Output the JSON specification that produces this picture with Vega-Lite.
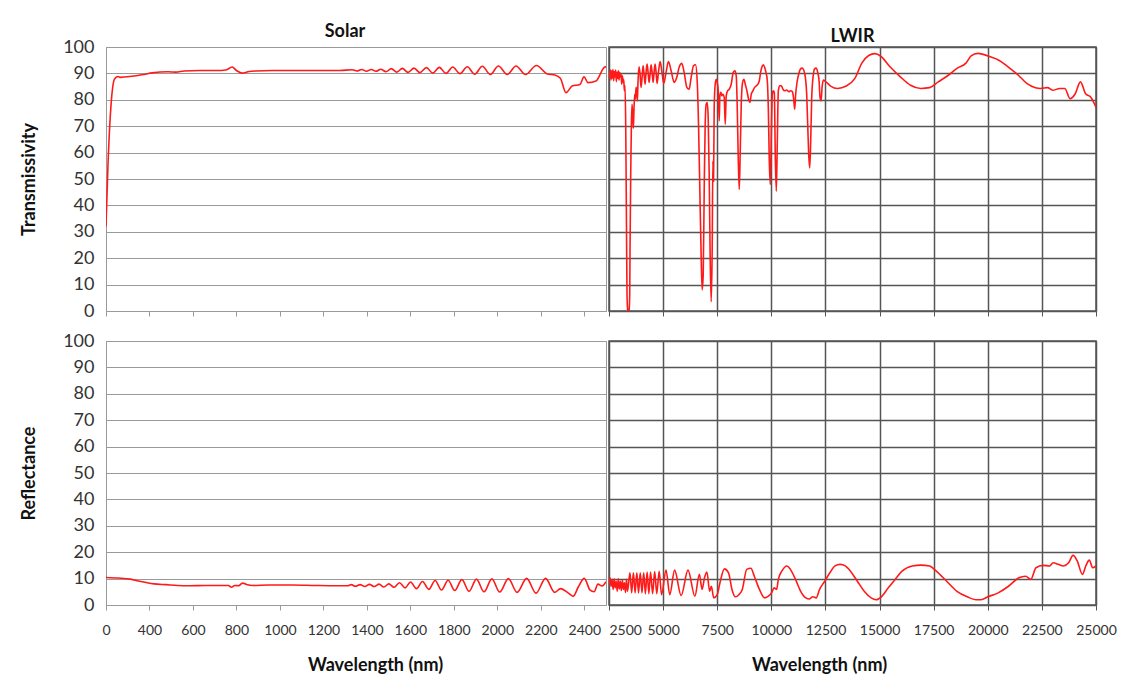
{
  "$schema": "https://vega.github.io/schema/vega-lite/v6.json",
  "background": "white",
  "padding": {"left": 20, "top": 22, "right": 10, "bottom": 10},
  "config": {
    "font": "Lato",
    "axis": {"labelFont": "Lato", "titleFont": "Lato", "labelColor": "#333333", "titleColor": "#111111", "titleFontWeight": "bold", "labelOverlap": false, "labelFlush": false},
    "title": {"font": "Lato", "fontSize": 18, "fontWeight": "bold", "color": "#111111"},
    "concat": {"spacing": 0}
  },
  "datasets": {
    "solarT": [
      {"nm":200,"v":32},{"nm":209,"v":55},{"nm":225,"v":80},{"nm":240,"v":88},{"nm":256,"v":88.8},{"nm":264,"v":88.5},{"nm":375,"v":89.6},{"nm":412,"v":90.2},{"nm":485,"v":90.6},{"nm":522,"v":90.5},{"nm":559,"v":90.9},{"nm":632,"v":91.1},{"nm":706,"v":91.1},{"nm":752,"v":91.3},{"nm":780,"v":92.4},{"nm":802,"v":91.0},{"nm":826,"v":90.1},{"nm":853,"v":90.6},{"nm":890,"v":90.9},{"nm":964,"v":91.1},{"nm":1074,"v":91.1},{"nm":1184,"v":91.1},{"nm":1276,"v":91.1},{"nm":1332,"v":91.4},{"nm":1354,"v":90.9},{"nm":1376,"v":91.5},{"nm":1398,"v":90.8},{"nm":1420,"v":91.5},{"nm":1442,"v":90.8},{"nm":1464,"v":91.6},{"nm":1488,"v":90.6},{"nm":1512,"v":91.8},{"nm":1538,"v":90.5},{"nm":1563,"v":91.9},{"nm":1589,"v":90.4},{"nm":1617,"v":92.0},{"nm":1644,"v":90.3},{"nm":1674,"v":92.2},{"nm":1703,"v":90.1},{"nm":1733,"v":92.3},{"nm":1764,"v":90.0},{"nm":1795,"v":92.4},{"nm":1828,"v":89.9},{"nm":1862,"v":92.5},{"nm":1896,"v":89.7},{"nm":1931,"v":92.7},{"nm":1968,"v":89.6},{"nm":2005,"v":92.8},{"nm":2046,"v":89.6},{"nm":2086,"v":92.8},{"nm":2130,"v":89.6},{"nm":2180,"v":93.0},{"nm":2230,"v":89.8},{"nm":2265,"v":89.4},{"nm":2290,"v":88.2},{"nm":2316,"v":82.7},{"nm":2344,"v":85.2},{"nm":2380,"v":85.8},{"nm":2399,"v":88.7},{"nm":2417,"v":86.5},{"nm":2454,"v":87.1},{"nm":2491,"v":92.2},{"nm":2500,"v":92.6}
    ],
    "solarR": [
      {"nm":200,"v":10.4},{"nm":258,"v":10.2},{"nm":313,"v":9.8},{"nm":349,"v":9.1},{"nm":385,"v":8.5},{"nm":421,"v":8.0},{"nm":476,"v":7.7},{"nm":530,"v":7.4},{"nm":585,"v":7.3},{"nm":657,"v":7.4},{"nm":730,"v":7.4},{"nm":763,"v":7.4},{"nm":777,"v":6.7},{"nm":792,"v":7.4},{"nm":810,"v":7.3},{"nm":828,"v":8.3},{"nm":846,"v":7.8},{"nm":875,"v":7.4},{"nm":948,"v":7.6},{"nm":1057,"v":7.6},{"nm":1166,"v":7.4},{"nm":1256,"v":7.3},{"nm":1311,"v":7.3},{"nm":1329,"v":7.7},{"nm":1347,"v":7.1},{"nm":1369,"v":7.7},{"nm":1391,"v":7.0},{"nm":1412,"v":7.8},{"nm":1434,"v":7.0},{"nm":1456,"v":7.9},{"nm":1478,"v":6.8},{"nm":1501,"v":8.0},{"nm":1525,"v":6.7},{"nm":1550,"v":8.4},{"nm":1576,"v":6.5},{"nm":1601,"v":8.7},{"nm":1628,"v":6.2},{"nm":1656,"v":8.9},{"nm":1685,"v":5.9},{"nm":1714,"v":9.3},{"nm":1743,"v":5.7},{"nm":1774,"v":9.4},{"nm":1804,"v":5.5},{"nm":1837,"v":9.6},{"nm":1870,"v":5.2},{"nm":1904,"v":9.8},{"nm":1939,"v":5.0},{"nm":1975,"v":9.9},{"nm":2011,"v":4.9},{"nm":2051,"v":10.0},{"nm":2091,"v":4.8},{"nm":2135,"v":10.1},{"nm":2178,"v":4.5},{"nm":2222,"v":10.1},{"nm":2264,"v":4.8},{"nm":2291,"v":6.2},{"nm":2327,"v":4.5},{"nm":2349,"v":3.3},{"nm":2373,"v":6.9},{"nm":2400,"v":10.1},{"nm":2427,"v":5.6},{"nm":2445,"v":5.0},{"nm":2463,"v":7.9},{"nm":2482,"v":7.2},{"nm":2500,"v":8.8}
    ],
    "lwirT": [
      {"nm":2500,"v":90.4},{"nm":2531,"v":88.5},{"nm":2562,"v":91.3},{"nm":2593,"v":87.5},{"nm":2623,"v":91.0},{"nm":2654,"v":88.2},{"nm":2685,"v":91.5},{"nm":2716,"v":87.2},{"nm":2747,"v":90.7},{"nm":2778,"v":88.7},{"nm":2809,"v":91.3},{"nm":2839,"v":86.9},{"nm":2870,"v":90.4},{"nm":2901,"v":88.2},{"nm":2932,"v":91.0},{"nm":2963,"v":87.5},{"nm":2994,"v":90.4},{"nm":3025,"v":88.7},{"nm":3055,"v":89.8},{"nm":3086,"v":85.9},{"nm":3117,"v":89.1},{"nm":3148,"v":86.6},{"nm":3179,"v":87.8},{"nm":3210,"v":83.4},{"nm":3241,"v":85.3},{"nm":3272,"v":70.7},{"nm":3302,"v":39.0},{"nm":3333,"v":6.1},{"nm":3364,"v":0.4},{"nm":3395,"v":0},{"nm":3426,"v":0.4},{"nm":3457,"v":6.1},{"nm":3472,"v":23.8},{"nm":3503,"v":51.7},{"nm":3534,"v":70.7},{"nm":3565,"v":78.3},{"nm":3596,"v":73.3},{"nm":3626,"v":69.2},{"nm":3657,"v":77.1},{"nm":3688,"v":82.1},{"nm":3719,"v":80.2},{"nm":3750,"v":84.7},{"nm":3781,"v":83.4},{"nm":3811,"v":79.6},{"nm":3842,"v":87.2},{"nm":3889,"v":92.5},{"nm":3935,"v":89.7},{"nm":3981,"v":84.7},{"nm":4028,"v":88.5},{"nm":4074,"v":92.9},{"nm":4120,"v":89.7},{"nm":4167,"v":85.9},{"nm":4213,"v":90.4},{"nm":4259,"v":93.5},{"nm":4306,"v":90.4},{"nm":4352,"v":86.6},{"nm":4398,"v":89.7},{"nm":4445,"v":93.3},{"nm":4491,"v":90.4},{"nm":4537,"v":86.6},{"nm":4583,"v":90.4},{"nm":4630,"v":93.5},{"nm":4676,"v":90.4},{"nm":4722,"v":86.2},{"nm":4784,"v":90.4},{"nm":4861,"v":94.5},{"nm":4938,"v":91.0},{"nm":5030,"v":86.2},{"nm":5123,"v":89.7},{"nm":5246,"v":94.5},{"nm":5370,"v":91.0},{"nm":5509,"v":86.6},{"nm":5632,"v":88.5},{"nm":5740,"v":92.3},{"nm":5863,"v":93.8},{"nm":5972,"v":90.4},{"nm":6095,"v":84.7},{"nm":6203,"v":84.0},{"nm":6296,"v":88.5},{"nm":6404,"v":92.9},{"nm":6497,"v":93.3},{"nm":6574,"v":87.2},{"nm":6636,"v":70.7},{"nm":6698,"v":45.4},{"nm":6760,"v":20.0},{"nm":6805,"v":8.0},{"nm":6852,"v":13.7},{"nm":6898,"v":45.4},{"nm":6944,"v":70.7},{"nm":6990,"v":78.3},{"nm":7036,"v":79.0},{"nm":7083,"v":73.3},{"nm":7129,"v":51.7},{"nm":7175,"v":20.0},{"nm":7221,"v":3.5},{"nm":7268,"v":23.8},{"nm":7299,"v":56.8},{"nm":7330,"v":49.2},{"nm":7360,"v":77.1},{"nm":7407,"v":85.9},{"nm":7453,"v":87.8},{"nm":7500,"v":86.6},{"nm":7546,"v":83.4},{"nm":7592,"v":72.0},{"nm":7623,"v":81.5},{"nm":7669,"v":82.8},{"nm":7715,"v":81.5},{"nm":7762,"v":82.1},{"nm":7823,"v":80.9},{"nm":7870,"v":70.7},{"nm":7916,"v":81.5},{"nm":7978,"v":83.4},{"nm":8055,"v":84.0},{"nm":8147,"v":85.9},{"nm":8240,"v":90.4},{"nm":8317,"v":91.0},{"nm":8379,"v":89.1},{"nm":8425,"v":77.1},{"nm":8471,"v":58.0},{"nm":8518,"v":46.0},{"nm":8564,"v":60.6},{"nm":8610,"v":78.3},{"nm":8672,"v":86.6},{"nm":8734,"v":87.8},{"nm":8795,"v":85.9},{"nm":8872,"v":83.4},{"nm":8950,"v":80.2},{"nm":9011,"v":79.0},{"nm":9073,"v":82.1},{"nm":9150,"v":83.4},{"nm":9227,"v":84.7},{"nm":9305,"v":85.3},{"nm":9382,"v":85.9},{"nm":9444,"v":87.2},{"nm":9505,"v":90.4},{"nm":9567,"v":92.5},{"nm":9629,"v":93.3},{"nm":9690,"v":92.3},{"nm":9752,"v":90.4},{"nm":9814,"v":87.2},{"nm":9860,"v":77.1},{"nm":9906,"v":56.8},{"nm":9953,"v":47.9},{"nm":9999,"v":66.9},{"nm":10045,"v":82.1},{"nm":10092,"v":83.4},{"nm":10138,"v":82.8},{"nm":10184,"v":58.0},{"nm":10230,"v":45.4},{"nm":10277,"v":64.4},{"nm":10323,"v":83.4},{"nm":10385,"v":85.3},{"nm":10462,"v":85.3},{"nm":10539,"v":84.0},{"nm":10616,"v":83.4},{"nm":10709,"v":83.7},{"nm":10801,"v":83.1},{"nm":10894,"v":83.4},{"nm":10971,"v":83.1},{"nm":11033,"v":80.2},{"nm":11079,"v":76.4},{"nm":11125,"v":82.1},{"nm":11187,"v":86.6},{"nm":11264,"v":89.7},{"nm":11341,"v":91.6},{"nm":11418,"v":92.0},{"nm":11495,"v":91.3},{"nm":11572,"v":88.5},{"nm":11634,"v":82.1},{"nm":11680,"v":70.7},{"nm":11727,"v":59.3},{"nm":11773,"v":54.2},{"nm":11819,"v":64.4},{"nm":11866,"v":80.9},{"nm":11927,"v":88.5},{"nm":11989,"v":91.6},{"nm":12066,"v":92.0},{"nm":12143,"v":90.4},{"nm":12205,"v":87.2},{"nm":12251,"v":80.9},{"nm":12297,"v":79.6},{"nm":12344,"v":84.7},{"nm":12406,"v":87.5},{"nm":12498,"v":87.0},{"nm":12740,"v":85.2},{"nm":13060,"v":84.3},{"nm":13460,"v":85.2},{"nm":13860,"v":88.1},{"nm":14180,"v":93.9},{"nm":14500,"v":96.8},{"nm":14780,"v":97.5},{"nm":15060,"v":96.5},{"nm":15470,"v":92.6},{"nm":15950,"v":88.8},{"nm":16430,"v":85.5},{"nm":16910,"v":84.3},{"nm":17310,"v":84.6},{"nm":17710,"v":86.8},{"nm":18190,"v":89.4},{"nm":18590,"v":92.0},{"nm":18990,"v":93.9},{"nm":19230,"v":96.6},{"nm":19550,"v":97.6},{"nm":19790,"v":97.2},{"nm":20110,"v":96.3},{"nm":20510,"v":95.0},{"nm":20920,"v":92.6},{"nm":21400,"v":89.4},{"nm":21800,"v":86.2},{"nm":22200,"v":84.6},{"nm":22440,"v":84.3},{"nm":22760,"v":84.6},{"nm":23000,"v":83.6},{"nm":23320,"v":84.3},{"nm":23560,"v":84.3},{"nm":23800,"v":80.4},{"nm":24040,"v":82.3},{"nm":24280,"v":86.8},{"nm":24520,"v":82.3},{"nm":24760,"v":81.0},{"nm":25000,"v":77.2}
    ],
    "lwirR": [
      {"nm":2500,"v":7.8},{"nm":2548,"v":10.3},{"nm":2595,"v":7.1},{"nm":2643,"v":9.7},{"nm":2690,"v":5.9},{"nm":2738,"v":9.9},{"nm":2786,"v":6.5},{"nm":2833,"v":9.0},{"nm":2881,"v":5.2},{"nm":2928,"v":9.9},{"nm":2976,"v":6.1},{"nm":3024,"v":9.0},{"nm":3071,"v":5.5},{"nm":3119,"v":9.4},{"nm":3167,"v":5.9},{"nm":3214,"v":8.4},{"nm":3262,"v":4.8},{"nm":3309,"v":9.7},{"nm":3357,"v":5.2},{"nm":3468,"v":12.2},{"nm":3547,"v":4.6},{"nm":3627,"v":12.2},{"nm":3706,"v":4.6},{"nm":3785,"v":12.2},{"nm":3865,"v":4.6},{"nm":3944,"v":12.2},{"nm":4024,"v":4.6},{"nm":4103,"v":12.2},{"nm":4182,"v":4.3},{"nm":4262,"v":12.5},{"nm":4341,"v":4.3},{"nm":4420,"v":12.5},{"nm":4516,"v":4.3},{"nm":4611,"v":12.7},{"nm":4706,"v":4.3},{"nm":4817,"v":12.8},{"nm":4928,"v":3.9},{"nm":5134,"v":13.2},{"nm":5309,"v":3.9},{"nm":5531,"v":13.2},{"nm":5833,"v":3.6},{"nm":6150,"v":13.2},{"nm":6468,"v":3.3},{"nm":6674,"v":11.6},{"nm":6801,"v":5.9},{"nm":6912,"v":10.3},{"nm":7023,"v":12.5},{"nm":7150,"v":5.2},{"nm":7229,"v":7.1},{"nm":7340,"v":2.7},{"nm":7499,"v":3.9},{"nm":7626,"v":8.4},{"nm":7832,"v":13.7},{"nm":8023,"v":12.2},{"nm":8181,"v":5.9},{"nm":8340,"v":3.1},{"nm":8499,"v":3.9},{"nm":8658,"v":5.9},{"nm":8864,"v":13.5},{"nm":9054,"v":13.9},{"nm":9213,"v":10.9},{"nm":9451,"v":5.9},{"nm":9689,"v":2.7},{"nm":9848,"v":3.3},{"nm":10007,"v":4.6},{"nm":10133,"v":6.5},{"nm":10245,"v":5.9},{"nm":10324,"v":9.7},{"nm":10483,"v":12.8},{"nm":10721,"v":14.8},{"nm":10880,"v":13.5},{"nm":11117,"v":9.7},{"nm":11355,"v":5.2},{"nm":11594,"v":2.7},{"nm":11752,"v":2.3},{"nm":11911,"v":3.1},{"nm":12070,"v":2.7},{"nm":12228,"v":5.9},{"nm":12466,"v":9.0},{"nm":12704,"v":12.2},{"nm":12942,"v":14.8},{"nm":13180,"v":15.4},{"nm":13419,"v":14.8},{"nm":13657,"v":12.8},{"nm":13974,"v":9.0},{"nm":14292,"v":5.2},{"nm":14609,"v":2.7},{"nm":14847,"v":2.0},{"nm":15085,"v":3.1},{"nm":15403,"v":6.5},{"nm":15720,"v":9.7},{"nm":16037,"v":12.8},{"nm":16513,"v":14.8},{"nm":16910,"v":15.1},{"nm":17307,"v":14.8},{"nm":17624,"v":12.8},{"nm":18100,"v":9.0},{"nm":18576,"v":5.2},{"nm":19052,"v":3.1},{"nm":19449,"v":2.0},{"nm":19688,"v":2.0},{"nm":20005,"v":3.1},{"nm":20481,"v":4.6},{"nm":20957,"v":7.1},{"nm":21433,"v":10.3},{"nm":21750,"v":10.9},{"nm":21988,"v":9.7},{"nm":22226,"v":14.1},{"nm":22544,"v":15.0},{"nm":22861,"v":14.8},{"nm":23020,"v":16.0},{"nm":23258,"v":15.4},{"nm":23496,"v":14.8},{"nm":23734,"v":16.0},{"nm":23940,"v":18.8},{"nm":24133,"v":16.7},{"nm":24371,"v":11.6},{"nm":24530,"v":14.8},{"nm":24689,"v":17.0},{"nm":24848,"v":14.1},{"nm":25000,"v":14.8}
    ]
  },
  "spacing": 10,
  "vconcat": [
    {
      "hconcat": [
        {
          "width": 500, "height": 264,
          "title": {"text": "Solar", "offset": -3, "dx": -11},
          "view": {"stroke": "#9a9a9a"},
          "data": {"name": "solarT"},
          "mark": {"type": "line", "color": "#ff1a1a", "strokeWidth": 1.6, "interpolate": "monotone", "clip": true},
          "encoding": {
            "x": {"field": "nm", "type": "quantitative", "scale": {"domain": [200, 2500], "nice": false, "zero": false},
                  "axis": {"title": null, "labels": false, "grid": false, "ticks": true, "tickSize": 5, "tickColor": "#9a9a9a", "domainColor": "#9a9a9a", "values": [200,400,600,800,1000,1200,1400,1600,1800,2000,2200,2400]}},
            "y": {"field": "v", "type": "quantitative", "scale": {"domain": [0, 100], "nice": false},
                  "axis": {"title": "Transmissivity", "titleFontSize": 18, "titlePadding": 24, "labelFontSize": 18, "labelPadding": 12, "ticks": false, "grid": true, "gridColor": "#9a9a9a", "gridWidth": 1.2, "domainColor": "#9a9a9a", "values": [0,10,20,30,40,50,60,70,80,90,100]}}
          }
        },
        {
          "width": 487, "height": 264,
          "title": {"text": "LWIR", "offset": 7, "dy": 6},
          "view": {"stroke": "#555555", "strokeWidth": 1.5},
          "data": {"name": "lwirT"},
          "mark": {"type": "line", "color": "#ff1a1a", "strokeWidth": 1.6, "interpolate": "monotone", "clip": true},
          "encoding": {
            "x": {"field": "nm", "type": "quantitative", "scale": {"domain": [2500, 25000], "nice": false, "zero": false},
                  "axis": {"title": null, "labels": false, "grid": true, "gridColor": "#555555", "gridWidth": 1.5, "ticks": true, "tickSize": 5, "tickColor": "#555555", "domain": false, "values": [2500,5000,7500,10000,12500,15000,17500,20000,22500,25000]}},
            "y": {"field": "v", "type": "quantitative", "scale": {"domain": [0, 100], "nice": false},
                  "axis": {"title": null, "labels": false, "ticks": false, "domain": false, "grid": true, "gridColor": "#555555", "gridWidth": 1.5, "values": [0,10,20,30,40,50,60,70,80,90,100]}}
          }
        }
      ]
    },
    {
      "hconcat": [
        {
          "width": 500, "height": 264,
          "view": {"stroke": "#9a9a9a"},
          "data": {"name": "solarR"},
          "mark": {"type": "line", "color": "#ff1a1a", "strokeWidth": 1.6, "interpolate": "monotone", "clip": true},
          "encoding": {
            "x": {"field": "nm", "type": "quantitative", "scale": {"domain": [200, 2500], "nice": false, "zero": false},
                  "axis": {"title": "Wavelength (nm)", "titleFontSize": 18, "titlePadding": 19, "titleX": 269, "labelFontSize": 14, "labelPadding": 13, "format": "d", "labelExpr": "datum.value == 200 ? '0' : datum.label", "grid": false, "ticks": true, "tickSize": 5, "tickColor": "#9a9a9a", "domainColor": "#9a9a9a", "values": [200,400,600,800,1000,1200,1400,1600,1800,2000,2200,2400]}},
            "y": {"field": "v", "type": "quantitative", "scale": {"domain": [0, 100], "nice": false},
                  "axis": {"title": "Reflectance", "titleFontSize": 18, "titlePadding": 24, "labelFontSize": 18, "labelPadding": 12, "ticks": false, "grid": true, "gridColor": "#9a9a9a", "gridWidth": 1.2, "domainColor": "#9a9a9a", "values": [0,10,20,30,40,50,60,70,80,90,100]}}
          }
        },
        {
          "width": 487, "height": 264,
          "view": {"stroke": "#555555", "strokeWidth": 1.5},
          "data": {"name": "lwirR"},
          "mark": {"type": "line", "color": "#ff1a1a", "strokeWidth": 1.6, "interpolate": "monotone", "clip": true},
          "encoding": {
            "x": {"field": "nm", "type": "quantitative", "scale": {"domain": [2500, 25000], "nice": false, "zero": false},
                  "axis": {"title": "Wavelength (nm)", "titleFontSize": 18, "titlePadding": 19, "titleX": 210, "labelFontSize": 14, "labelPadding": 13, "format": "d", "labelAlign": {"condition": {"test": "datum.value == 2500", "value": "left"}, "value": "center"}, "grid": true, "gridColor": "#555555", "gridWidth": 1.5, "ticks": true, "tickSize": 5, "tickColor": "#555555", "domain": false, "values": [2500,5000,7500,10000,12500,15000,17500,20000,22500,25000]}},
            "y": {"field": "v", "type": "quantitative", "scale": {"domain": [0, 100], "nice": false},
                  "axis": {"title": null, "labels": false, "ticks": false, "domain": false, "grid": true, "gridColor": "#555555", "gridWidth": 1.5, "values": [0,10,20,30,40,50,60,70,80,90,100]}}
          }
        }
      ]
    }
  ]
}
